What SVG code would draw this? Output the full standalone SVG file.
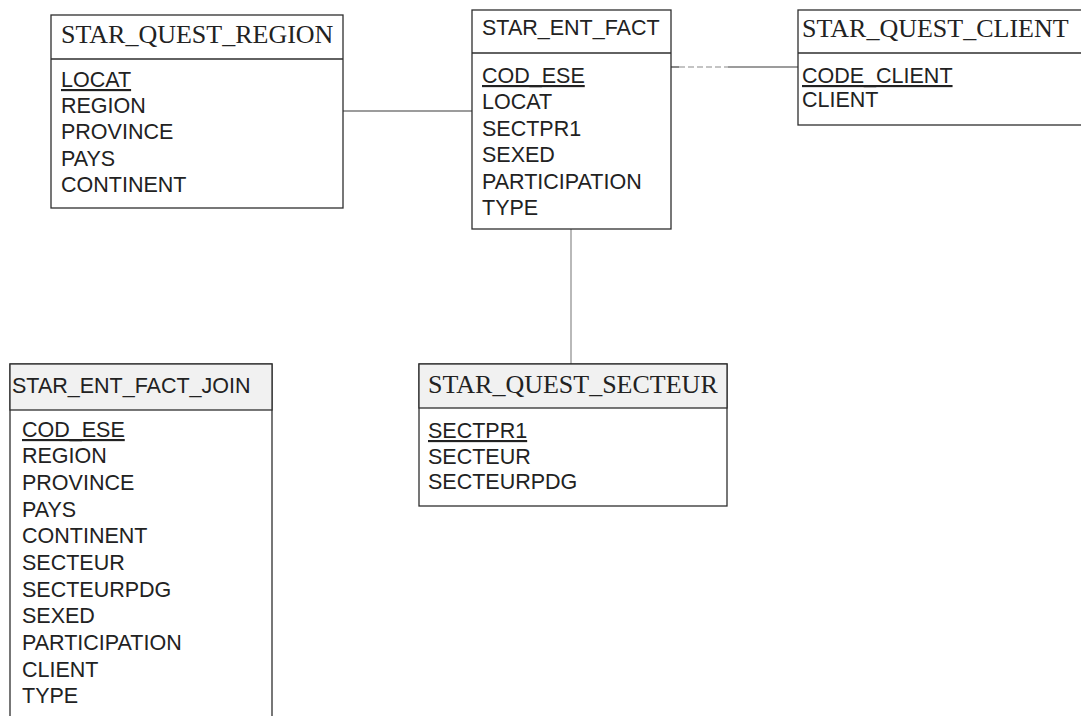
<svg xmlns="http://www.w3.org/2000/svg" width="1081" height="716" viewBox="0 0 1081 716">
  <style>
    .box { fill: #ffffff; stroke: #2e2e2e; stroke-width: 1.3; }
    .hdr { fill: #ffffff; stroke: #2e2e2e; stroke-width: 1.3; }
    .hdr.shade { fill: #f1f1f1; }
    .sep { stroke: #2e2e2e; stroke-width: 1.5; }
    .title-serif { font-family: "Liberation Serif", "Times New Roman", serif; font-size: 26px; fill: #222; }
    .title-sans { font-family: "Liberation Sans", Arial, sans-serif; font-size: 21.5px; fill: #222; }
    .attr { font-family: "Liberation Sans", Arial, sans-serif; font-size: 21.5px; fill: #222; }
    .pk { text-decoration: underline; }
    .link { stroke: #3a3a3a; stroke-width: 1.2; fill: none; }
    .link.faint { stroke: #8a8a8a; }
  </style>

  <rect width="1081" height="716" fill="#ffffff"/>

  <!-- relationships -->
  <g id="connectors">
    <line class="link" x1="343" y1="111" x2="472" y2="111"/>
    <line class="link" x1="671" y1="67" x2="679" y2="67"/>
    <line class="link faint" x1="679" y1="67" x2="728" y2="67" stroke-dasharray="6 3"/>
    <line class="link" x1="728" y1="67" x2="798" y2="67"/>
    <line class="link faint" x1="571" y1="229" x2="571" y2="364"/>
  </g>

  <!-- region dimension -->
  <g id="star_quest_region">
    <rect class="box" x="51" y="15" width="292" height="193"/>
    <line class="sep" x1="51" y1="59" x2="343" y2="59"/>
    <text class="title-serif" x="61" y="43">STAR_QUEST_REGION</text>
    <text class="attr pk" x="61" y="87">LOCAT</text>
    <text class="attr" x="61" y="113">REGION</text>
    <text class="attr" x="61" y="139">PROVINCE</text>
    <text class="attr" x="61" y="166">PAYS</text>
    <text class="attr" x="61" y="192">CONTINENT</text>
  </g>

  <!-- fact table -->
  <g id="star_ent_fact">
    <rect class="box" x="472" y="10" width="199" height="219"/>
    <line class="sep" x1="472" y1="53" x2="671" y2="53"/>
    <text class="title-sans" x="482" y="35">STAR_ENT_FACT</text>
    <text class="attr pk" x="482" y="83">COD_ESE</text>
    <text class="attr" x="482" y="109">LOCAT</text>
    <text class="attr" x="482" y="136">SECTPR1</text>
    <text class="attr" x="482" y="162">SEXED</text>
    <text class="attr" x="482" y="189">PARTICIPATION</text>
    <text class="attr" x="482" y="215">TYPE</text>
  </g>

  <!-- client dimension -->
  <g id="star_quest_client">
    <rect class="box" x="798" y="10" width="290" height="115"/>
    <line class="sep" x1="798" y1="53" x2="1081" y2="53"/>
    <text class="title-serif" x="802" y="37">STAR_QUEST_CLIENT</text>
    <text class="attr pk" x="802" y="83">CODE_CLIENT</text>
    <text class="attr" x="802" y="107">CLIENT</text>
  </g>

  <!-- sector dimension -->
  <g id="star_quest_secteur">
    <rect class="box" x="419" y="364" width="308" height="142"/>
    <rect class="hdr shade" x="419" y="364" width="308" height="44"/>
    <text class="title-serif" x="428" y="393">STAR_QUEST_SECTEUR</text>
    <text class="attr pk" x="428" y="438">SECTPR1</text>
    <text class="attr" x="428" y="464">SECTEUR</text>
    <text class="attr" x="428" y="489">SECTEURPDG</text>
  </g>

  <!-- joined fact table -->
  <g id="star_ent_fact_join">
    <rect class="box" x="10" y="364" width="262" height="370"/>
    <rect class="hdr shade" x="10" y="364" width="262" height="46"/>
    <text class="title-sans" x="12" y="393">STAR_ENT_FACT_JOIN</text>
    <text class="attr pk" x="22" y="437">COD_ESE</text>
    <text class="attr" x="22" y="463">REGION</text>
    <text class="attr" x="22" y="490">PROVINCE</text>
    <text class="attr" x="22" y="517">PAYS</text>
    <text class="attr" x="22" y="543">CONTINENT</text>
    <text class="attr" x="22" y="570">SECTEUR</text>
    <text class="attr" x="22" y="597">SECTEURPDG</text>
    <text class="attr" x="22" y="623">SEXED</text>
    <text class="attr" x="22" y="650">PARTICIPATION</text>
    <text class="attr" x="22" y="677">CLIENT</text>
    <text class="attr" x="22" y="703">TYPE</text>
  </g>
</svg>
